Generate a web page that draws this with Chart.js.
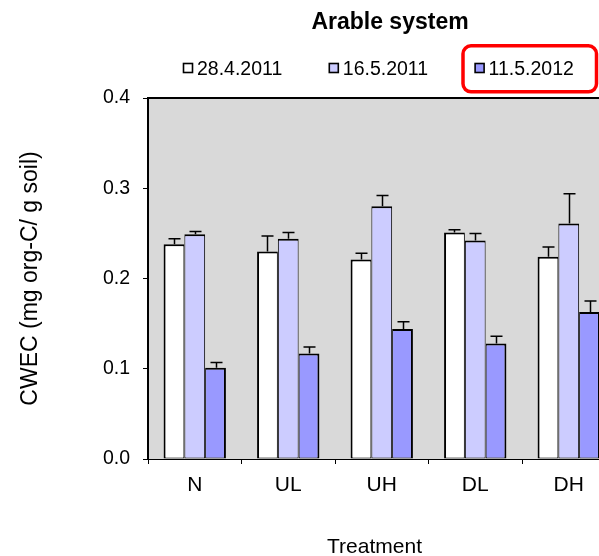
<!DOCTYPE html>
<html>
<head>
<meta charset="utf-8">
<title>Arable system – CWEC</title>
<script src="https://cdn.jsdelivr.net/npm/chart.js@4.4.1/dist/chart.umd.min.js"></script>
<style>
  html, body { margin: 0; padding: 0; background: #fff; overflow: hidden; }
  #wrap { width: 599px; height: 556px; overflow: hidden; position: relative; }
  canvas { display: block; }
</style>
</head>
<body>
<div id="wrap"><canvas id="c" width="620" height="556"></canvas></div>
<script>
// ---- data ----
const chartTitle = 'Arable system';
const xTitle = 'Treatment';
const yTitle = 'CWEC (mg org-C/ g soil)';
const treatments = ['N', 'UL', 'UH', 'DL', 'DH'];
const seriesLabels = ['28.4.2011', '16.5.2011', '11.5.2012'];

// mean water-extractable C per sampling date
const cwecApr2011 = [0.238, 0.230, 0.221, 0.251, 0.224];
const cwecMay2011 = [0.249, 0.244, 0.280, 0.242, 0.261];
const cwecMay2012 = [0.101, 0.117, 0.144, 0.128, 0.163];

// standard errors (drawn upward only)
const errApr2011 = [0.006, 0.017, 0.007, 0.003, 0.011];
const errMay2011 = [0.003, 0.007, 0.012, 0.008, 0.033];
const errMay2012 = [0.006, 0.007, 0.008, 0.008, 0.012];

const yTickValues = [0, 0.1, 0.2, 0.3, 0.4];
const yTickLabels = ['0.0', '0.1', '0.2', '0.3', '0.4'];

// ---- styling ----
const FONT = "'Liberation Sans', Arial, Helvetica, sans-serif";
const seriesColors = ['#ffffff', '#ccccff', '#9999ff'];
const plotGray = '#d9d9d9';

// bar outlines: neighbouring bars share a single 2px edge
const borderSides = [
  { top: 2, left: 2, right: 1, bottom: 1 },
  { top: 2, left: 1, right: 1, bottom: 1 },
  { top: 2, left: 1, right: 2, bottom: 1 }
];

const seriesValues = [cwecApr2011, cwecMay2011, cwecMay2012];
const seriesErrors = [errApr2011, errMay2011, errMay2012];

const datasets = seriesLabels.map((label, i) => ({
  label,
  data: seriesValues[i],
  errors: seriesErrors[i],
  backgroundColor: seriesColors[i],
  borderColor: '#000',
  borderWidth: borderSides[i],
  borderSkipped: false,
  categoryPercentage: 0.667,
  barPercentage: 1.0
}));

// gray plot area plus its top frame line
const plotFrame = {
  id: 'plotFrame',
  beforeDraw(chart) {
    const { ctx, chartArea: a } = chart;
    ctx.save();
    ctx.fillStyle = plotGray;
    ctx.fillRect(a.left, a.top, a.right - a.left, a.bottom - a.top);
    ctx.restore();
  },
  afterDraw(chart) {
    const { ctx, chartArea: a } = chart;
    ctx.save();
    ctx.strokeStyle = '#000';
    ctx.lineWidth = 2;
    ctx.beginPath();
    ctx.moveTo(a.left - 1, a.top);
    ctx.lineTo(a.right + 1, a.top);
    ctx.moveTo(a.right, a.top);
    ctx.lineTo(a.right, a.bottom);
    ctx.stroke();
    ctx.restore();
  }
};

// upward error bars with caps
const errorBars = {
  id: 'errorBars',
  afterDatasetsDraw(chart) {
    const { ctx } = chart;
    const y = chart.scales.y;
    ctx.save();
    ctx.strokeStyle = '#000';
    ctx.lineWidth = 1.5;
    chart.data.datasets.forEach((ds, i) => {
      const meta = chart.getDatasetMeta(i);
      meta.data.forEach((bar, j) => {
        const v = ds.data[j];
        const e = ds.errors[j];
        const y0 = y.getPixelForValue(v);
        const y1 = y.getPixelForValue(v + e);
        const x = Math.round(bar.x) + 0.5;
        ctx.beginPath();
        ctx.moveTo(x, y0);
        ctx.lineTo(x, y1);
        ctx.moveTo(x - 6, y1);
        ctx.lineTo(x + 6, y1);
        ctx.stroke();
      });
    });
    ctx.restore();
  }
};

// title, legend row with highlighted last entry, x-axis title
const annotations = {
  id: 'annotations',
  afterDraw(chart) {
    const { ctx } = chart;
    ctx.save();
    ctx.fillStyle = '#000';

    // chart title
    ctx.font = `bold 23px ${FONT}`;
    ctx.textAlign = 'center';
    ctx.textBaseline = 'alphabetic';
    ctx.fillText(chartTitle, 390, 28.5);

    // legend
    ctx.font = `19.5px ${FONT}`;
    ctx.textAlign = 'left';
    let x = 183;
    const itemPositions = [];
    chart.data.datasets.forEach((ds) => {
      itemPositions.push(x);
      ctx.fillStyle = ds.backgroundColor;
      ctx.fillRect(x + 0.5, 63.5, 9, 9);
      ctx.strokeStyle = '#000';
      ctx.lineWidth = 1.6;
      ctx.strokeRect(x + 0.5, 63.5, 9, 9);
      ctx.fillStyle = '#000';
      ctx.fillText(ds.label, x + 14, 75);
      x += 14 + ctx.measureText(ds.label).width + 46.5;
    });

    // red rounded frame around the 2012 entry
    ctx.strokeStyle = '#ff0000';
    ctx.lineWidth = 3.5;
    ctx.beginPath();
    ctx.roundRect(463, 45.8, 133.5, 46, 8);
    ctx.stroke();

    // x-axis title
    ctx.fillStyle = '#000';
    ctx.font = `21px ${FONT}`;
    ctx.textAlign = 'center';
    ctx.fillText(xTitle, 374.5, 553);
    ctx.restore();
  }
};

new Chart(document.getElementById('c'), {
  type: 'bar',
  data: { labels: treatments, datasets },
  options: {
    responsive: false,
    animation: false,
    layout: { padding: { top: 98, right: 4.5, bottom: 0, left: 0 } },
    plugins: {
      legend: { display: false },
      title: { display: false },
      tooltip: { enabled: false }
    },
    scales: {
      x: {
        z: 1,
        grid: { drawOnChartArea: false, drawTicks: true, tickLength: 5, color: '#000', lineWidth: 1, offset: true },
        border: { display: true, color: '#000', width: 1 },
        ticks: { color: '#000', font: { family: FONT, size: 21 }, padding: 8.4, maxRotation: 0 },
        afterFit(scale) { scale.height = 97; }
      },
      y: {
        min: 0,
        max: 0.4,
        grid: { drawOnChartArea: false, drawTicks: true, tickLength: 5, color: '#000', lineWidth: 1 },
        border: { display: true, color: '#000', width: 2 },
        afterBuildTicks(scale) { scale.ticks = yTickValues.map(v => ({ value: v })); },
        ticks: {
          color: '#000',
          font: { family: FONT, size: 19.5 },
          padding: 13,
          callback: (v, i) => yTickLabels[i]
        },
        title: {
          display: true,
          text: yTitle,
          color: '#000',
          font: { family: FONT, size: 23, lineHeight: 1.2 },
          padding: { top: 17, bottom: 0 }
        },
        afterFit(scale) { scale.width = 148; }
      }
    }
  },
  plugins: [plotFrame, errorBars, annotations]
});
</script>
</body>
</html>
